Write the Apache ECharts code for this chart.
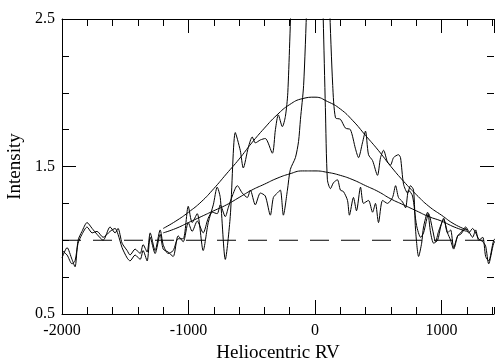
<!DOCTYPE html>
<html>
<head>
<meta charset="utf-8">
<script src="https://cdn.jsdelivr.net/npm/echarts@6/dist/echarts.min.js"></script>
<style>
html, body { margin: 0; padding: 0; background: #fff; }
#chart { width: 504px; height: 358px; }
</style>
</head>
<body>
<div id="chart"></div>
<script>
// x axis range and tick labels (frame runs a little past the window on the right)
var rvMin = -2000;
var rvMax = 1415;
var intensityTicks = [0.5, 1.5, 2.5];

// dashed continuum level
var baseRv = [-2000, 1500];
var baseInt = [1.0, 1.0];

// gaussian fits
var fitRv = [-1200, -1100, -1000, -900, -800, -700, -600, -500, -400, -300, -200, -100, 0,
             100, 200, 300, 400, 500, 600, 700, 800, 900, 1000, 1100, 1200];
var fitBroad = [1.08, 1.13, 1.19, 1.26, 1.35, 1.45, 1.55, 1.66, 1.76, 1.85, 1.92, 1.96, 1.97,
                1.94, 1.89, 1.81, 1.71, 1.61, 1.50, 1.40, 1.31, 1.23, 1.17, 1.11, 1.07];
var fitNarrow = [1.05, 1.08, 1.12, 1.16, 1.20, 1.24, 1.29, 1.34, 1.38, 1.42, 1.45, 1.47, 1.47,
                 1.46, 1.44, 1.41, 1.37, 1.33, 1.28, 1.24, 1.20, 1.16, 1.13, 1.09, 1.06];

// upper spectrum
var specARv = [-2000, -1960, -1921, -1897, -1873, -1842, -1802, -1762, -1723, -1675, -1620, -1580,
               -1557, -1525, -1485, -1462, -1422, -1382, -1359, -1327, -1303, -1264, -1224, -1200,
               -1161, -1121, -1082, -1042, -1002, -971, -931, -884, -844, -804, -773, -749, -709,
               -670, -630, -591, -567, -527, -496, -472, -432, -393, -337, -313, -290, -258, -234,
               -215, -185, -150, -80, 0, 80, 115, 140, 162, 201, 241, 280, 320, 344, 375, 399,
               423, 455, 494, 518, 542, 573, 597, 621, 660, 676, 700, 732, 755, 779, 795, 819,
               843, 858, 890, 914, 938, 969, 993, 1017, 1048, 1072, 1096, 1128, 1151, 1191, 1215,
               1246, 1270, 1294, 1326, 1349, 1373, 1413, 1444, 1468, 1500];
var specAInt = [0.88, 0.95, 0.87, 0.82, 1.00, 1.06, 1.12, 1.08, 1.04, 1.00, 1.09, 1.05,
                1.08, 0.98, 0.93, 0.90, 0.94, 0.91, 0.97, 0.92, 1.05, 0.93, 1.07, 0.97,
                0.91, 0.93, 1.01, 1.01, 1.23, 1.12, 1.18, 0.93, 1.12, 1.24, 1.36, 1.29, 0.87,
                1.16, 1.73, 1.61, 1.49, 1.63, 1.70, 1.66, 1.68, 1.69, 1.59, 1.75, 1.85, 1.77, 1.84,
                2.00, 2.70, 3.30, 4.00, 4.20, 3.60, 2.60, 2.05, 1.83, 1.82, 1.76, 1.75, 1.62, 1.56, 1.66, 1.74,
                1.58, 1.54, 1.44, 1.56, 1.61, 1.53, 1.51, 1.56, 1.58, 1.56, 1.38, 1.32, 1.37, 1.34, 1.07, 0.89,
                0.98, 1.09, 1.19, 1.05, 0.98, 1.00, 1.09, 1.15, 1.05, 1.07, 0.95, 1.03, 1.04, 1.08, 1.05,
                1.08, 1.05, 1.01, 0.99, 0.96, 0.84, 0.98, 1.01, 0.93, 0.98];

// lower spectrum
var specBRv = [-2000, -1960, -1921, -1897, -1873, -1842, -1802, -1762, -1723, -1675, -1620, -1580,
               -1557, -1525, -1485, -1462, -1422, -1382, -1359, -1327, -1303, -1264, -1224, -1200,
               -1161, -1121, -1082, -1042, -1002, -971, -931, -884, -844, -812, -773, -749, -709,
               -686, -654, -614, -575, -535, -511, -472, -432, -393, -353, -329, -298, -274, -250,
               -218, -195, -155, -130, -115, -90, -65, -30, 0, 40, 65, 82, 98, 122, 146, 177,
               201, 225, 257, 272, 304, 328, 360, 383, 423, 455, 478, 502, 534, 573, 613, 637,
               660, 692, 716, 740, 771, 803, 835, 858, 898, 930, 953, 977, 1017, 1048, 1072, 1096,
               1128, 1151, 1191, 1215, 1246, 1270, 1294, 1326, 1349, 1373, 1413, 1444, 1468, 1500];
var specBInt = [0.93, 0.90, 0.84, 0.86, 0.98, 1.04, 1.09, 1.05, 1.06, 1.02, 1.06, 1.08,
                1.04, 0.95, 0.88, 0.86, 0.90, 0.87, 0.93, 0.86, 1.02, 0.91, 1.04, 0.94,
                0.92, 0.89, 1.03, 0.99, 1.12, 1.06, 1.13, 1.05, 1.15, 1.19, 1.18, 1.24, 1.16,
                1.22, 1.30, 1.37, 1.32, 1.29, 1.34, 1.24, 1.32, 1.30, 1.17, 1.29, 1.32, 1.34, 1.17,
                1.34, 1.48, 1.56, 1.67, 1.82, 2.05, 2.60, 3.50, 3.80, 3.30, 2.50, 1.90, 1.41, 1.35, 1.39, 1.41,
                1.34, 1.33, 1.27, 1.17, 1.29, 1.20, 1.36, 1.25, 1.27, 1.19, 1.25, 1.12, 1.27, 1.25, 1.29, 1.37,
                1.29, 1.26, 1.22, 1.34, 1.30, 1.10, 1.02, 1.05, 1.18, 1.07, 0.99, 1.06, 1.14, 1.05, 1.00, 0.94,
                1.03, 1.05, 1.09, 1.06, 1.02, 1.07, 1.00, 1.02, 0.89, 0.86, 1.00, 1.02, 0.95, 0.97];

function pairs(xs, ys) {
    var out = [];
    for (var i = 0; i < xs.length; i++) {
        out.push([xs[i], ys[i]]);
    }
    return out;
}

var font = 'Liberation Serif';

// main x axes carry line + long ticks, the extra ones only carry the short ticks
function xAxisOf(pos, interval, len, withLine) {
    var labelled = withLine && pos === 'bottom';
    return {
        type: 'value', min: rvMin, max: rvMax, interval: interval, position: pos,
        axisLine: { show: withLine, onZero: false, lineStyle: { color: '#000' } },
        axisTick: { show: true, inside: true, length: len, lineStyle: { color: '#000' } },
        axisLabel: { show: labelled, showMaxLabel: false, color: '#000',
                     fontFamily: font, fontSize: 16, margin: 9,
                     formatter: function (v) { return String(v); } },
        splitLine: { show: false },
        name: labelled ? 'Heliocentric RV' : '',
        nameLocation: 'middle', nameGap: 26,
        nameTextStyle: { color: '#000', fontFamily: font, fontSize: 19 }
    };
}

function yAxisOf(pos) {
    return {
        type: 'value', min: intensityTicks[0], max: intensityTicks[intensityTicks.length - 1],
        interval: 1, position: pos,
        // right frame line is off the picture in the original, so keep it invisible
        axisLine: { show: true, onZero: false,
                    lineStyle: { color: '#000', opacity: pos === 'left' ? 1 : 0 } },
        axisTick: { show: true, inside: true, length: 14, lineStyle: { color: '#000' } },
        minorTick: { show: true, splitNumber: 4, length: 7 },
        axisLabel: { show: pos === 'left', color: '#000', fontFamily: font, fontSize: 16, margin: 7,
                     formatter: function (v) { return v.toFixed(1); } },
        splitLine: { show: false },
        name: pos === 'left' ? 'Intensity' : '',
        nameLocation: 'middle', nameGap: 31,
        nameTextStyle: { color: '#000', fontFamily: font, fontSize: 19 }
    };
}

function lineSeries(data, smooth, dashed) {
    return {
        type: 'line', data: data, showSymbol: false, smooth: smooth,
        lineStyle: { color: '#000', width: 1, type: dashed ? [19, 12] : 'solid' }
    };
}

var chart = echarts.init(document.getElementById('chart'));
chart.setOption({
    animation: false,
    grid: { left: 62, right: 10, top: 19, bottom: 44, outerBoundsMode: 'none' },
    xAxis: [
        xAxisOf('bottom', 1000, 14, true),
        xAxisOf('bottom', 200, 7, false),
        xAxisOf('top', 1000, 14, true),
        xAxisOf('top', 200, 7, false)
    ],
    yAxis: [yAxisOf('left'), yAxisOf('right')],
    series: [
        lineSeries(pairs(baseRv, baseInt), false, true),
        lineSeries(pairs(fitRv, fitBroad), true, false),
        lineSeries(pairs(fitRv, fitNarrow), true, false),
        lineSeries(pairs(specARv, specAInt), 0.25, false),
        lineSeries(pairs(specBRv, specBInt), 0.25, false)
    ]
});
</script>
</body>
</html>
